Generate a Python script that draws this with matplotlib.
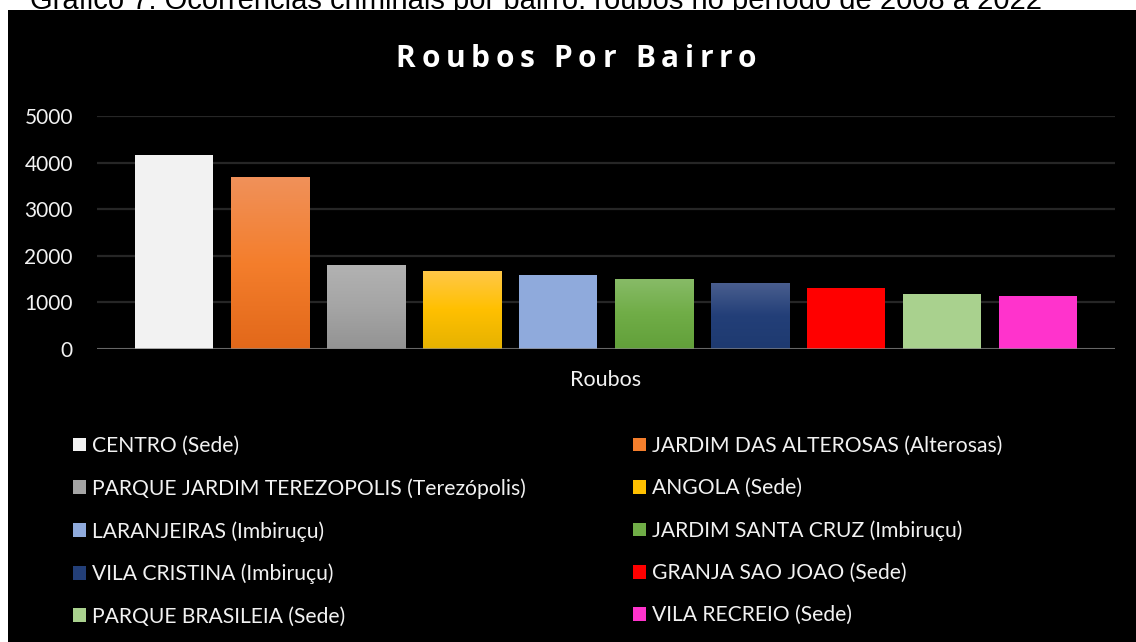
import numpy as np
import matplotlib
matplotlib.use('Agg')
import matplotlib.pyplot as plt
from matplotlib.colors import LinearSegmentedColormap
from matplotlib.patches import Rectangle
from matplotlib.font_manager import FontProperties, findfont
from matplotlib.ft2font import FT2Font

bairros = ['CENTRO (Sede)', 'JARDIM DAS ALTEROSAS (Alterosas)',
           'PARQUE JARDIM TEREZOPOLIS (Terezópolis)', 'ANGOLA (Sede)',
           'LARANJEIRAS (Imbiruçu)', 'JARDIM SANTA CRUZ (Imbiruçu)',
           'VILA CRISTINA (Imbiruçu)', 'GRANJA SAO JOAO (Sede)',
           'PARQUE BRASILEIA (Sede)', 'VILA RECREIO (Sede)']
roubos = [4170, 3690, 1800, 1680, 1590, 1505, 1420, 1310, 1185, 1140]
y_ticks = [0, 1000, 2000, 3000, 4000, 5000]

# bar colours: (top, middle, bottom); flat bars use the same colour three times
cores = [('#f2f2f2', '#f2f2f2', '#f2f2f2'),
         ('#f0915a', '#f47e2c', '#e2681a'),
         ('#b2b2b2', '#a5a5a5', '#939393'),
         ('#ffc84a', '#ffc000', '#e6b200'),
         ('#8faadc', '#8faadc', '#8faadc'),
         ('#88bb68', '#70ad47', '#62a03a'),
         ('#4b5f8f', '#233f78', '#1e3a70'),
         ('#ff0000', '#ff0000', '#ff0000'),
         ('#a9d18e', '#a9d18e', '#a9d18e'),
         ('#ff33cc', '#ff33cc', '#ff33cc')]

W, H = 1136, 642
fig = plt.figure(figsize=(W / 100, H / 100), dpi=100, facecolor='white')

# caption of the document, cut off by the screenshot as in the original
fig.text(30 / W, 1 - 9 / H, 'Gráfico 7: Ocorrências criminais por bairro: roubos no período de 2008 a 2022',
         family='Liberation Sans', fontsize=21, color='black', va='baseline', ha='left')
fig.patches.append(Rectangle((8 / W, 0), 1, 1 - 10 / H, transform=fig.transFigure,
                             facecolor='black', edgecolor='none', zorder=-1))

ax = fig.add_axes([97 / W, 1 - 349 / H, (1115 - 97) / W, (349 - 116) / H])
ax.set_zorder(2)
ax.set_facecolor('black')
ax.patch.set_alpha(0)

x = np.arange(len(roubos))
bars = ax.bar(x, roubos, width=0.8125, color=[c[1] for c in cores], zorder=2)

grad = np.linspace(0, 1, 256).reshape(-1, 1)
for bar, c in zip(bars, cores):
    if c[0] == c[2]:
        continue
    cmap = LinearSegmentedColormap.from_list('g', [c[2], c[1], c[0]])
    x0, w, h = bar.get_x(), bar.get_width(), bar.get_height()
    im = ax.imshow(grad, extent=[x0, x0 + w, 0, h], origin='lower', cmap=cmap,
                   aspect='auto', zorder=2.5, interpolation='bilinear')
    im.set_clip_path(bar)

ax.set_xlim(-0.80, 9.80)
ax.set_ylim(0, 5000)
ax.set_yticks(y_ticks)
ax.yaxis.grid(True, color='#262626', linewidth=1.6, zorder=0)
ax.set_axisbelow(True)
ax.axhline(0, color='#858585', linewidth=1.8, zorder=3, alpha=0.9)
for s in ax.spines.values():
    s.set_visible(False)
ax.set_xticks([])
ax.tick_params(axis='y', length=0, pad=17.3, labelsize=15, labelcolor='#f2f2f2')
for lab in ax.get_yticklabels():
    lab.set_family('Lato')
ax.set_xlabel('Roubos', family='Lato', fontsize=15.5, color='#f2f2f2', labelpad=15)

# title with wide letter spacing, like the original
titulo = 'Roubos Por Bairro'
fp = FontProperties(family='Open Sans', weight='bold', size=21.5)
ft = FT2Font(findfont(fp))
ft.set_size(21.5, 100)
avancos = []
for ch in titulo:
    g = ft.load_char(ord(ch))
    avancos.append(g.linearHoriAdvance / 65536)
tracking = 5.7
total = sum(avancos) + tracking * (len(titulo) - 1)
pos = 576 - total / 2
for ch, a in zip(titulo, avancos):
    fig.text(pos / W, 1 - 67 / H, ch, fontproperties=fp, color='white', va='baseline', ha='left')
    pos += a + tracking

handles = list(bars)
leg_kw = dict(loc='upper left', frameon=False, borderpad=0, borderaxespad=0,
              handlelength=0.62, handleheight=0.62, handletextpad=0.3,
              labelspacing=1.05, prop={'family': 'Lato', 'size': 15.2}, labelcolor='#f2f2f2')
fig.legend(handles[0::2], bairros[0::2], bbox_to_anchor=(73 / W, 1 - 436 / H), **leg_kw)
fig.legend(handles[1::2], bairros[1::2], bbox_to_anchor=(633 / W, 1 - 436 / H), **leg_kw)

fig.savefig('out.png', dpi=100, facecolor='white')
